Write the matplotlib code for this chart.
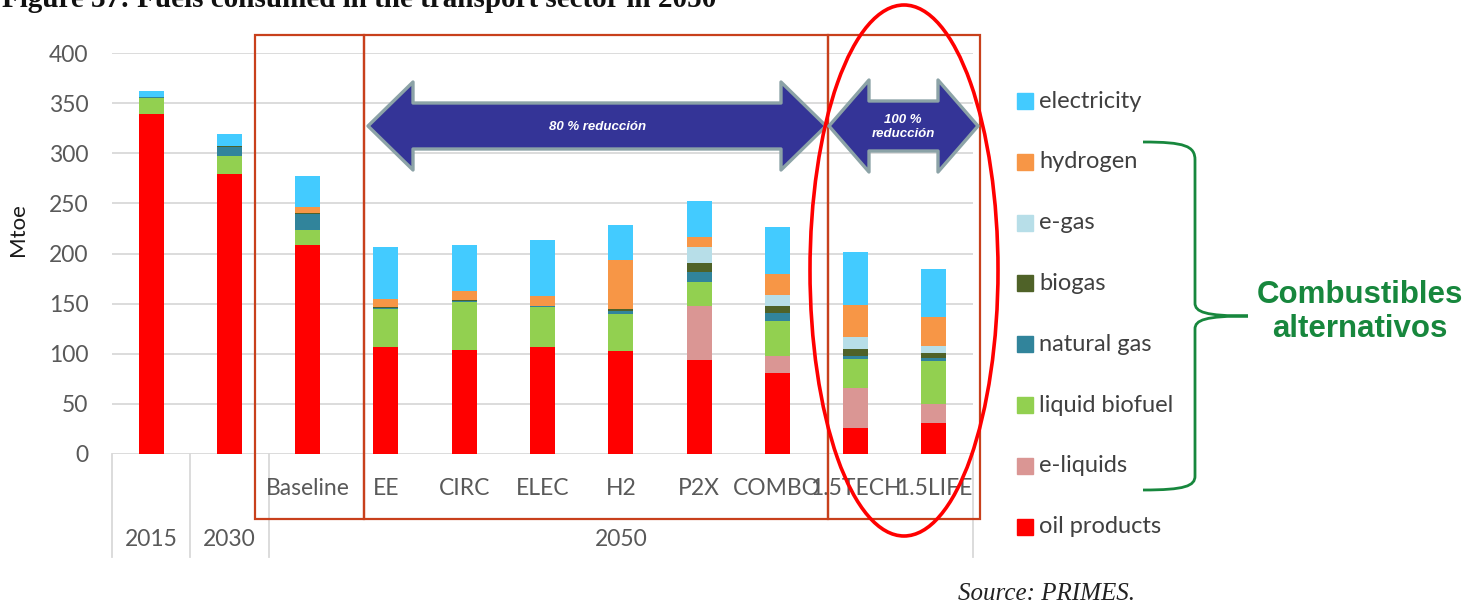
import numpy as np
import matplotlib.pyplot as plt
from matplotlib.patches import Rectangle, Ellipse, Polygon, PathPatch
from matplotlib.path import Path
from matplotlib.transforms import Affine2D, blended_transform_factory

plt.rcParams['font.family'] = ['Lato', 'DejaVu Sans']

# ---- data (Mtoe) ----
scenarios = ['2015', '2030', 'Baseline', 'EE', 'CIRC', 'ELEC', 'H2', 'P2X', 'COMBO', '1.5TECH', '1.5LIFE']
sub_labels = ['', '', 'Baseline', 'EE', 'CIRC', 'ELEC', 'H2', 'P2X', 'COMBO', '1.5TECH', '1.5LIFE']
year_labels = ['2015', '2030', '2050']
year_pos = [0, 1, 6]

oil_products = [339, 279, 208, 107, 104, 107, 103, 94, 81, 26, 31]
e_liquids = [0, 0, 0, 0, 0, 0, 0, 54, 17, 40, 19]
liquid_biofuel = [16, 18, 15, 38, 48, 40, 37, 24, 35, 29, 43]
natural_gas = [1, 9, 16, 1, 1, 1, 3, 10, 8, 3, 3]
biogas = [0, 1, 1, 0.5, 1, 0, 2, 9, 7, 7, 5]
e_gas = [0, 0, 0, 0, 0, 0, 0, 15, 11, 12, 7]
hydrogen = [0, 0, 6, 8, 9, 10, 49, 10, 21, 32, 29]
electricity = [6, 12, 31, 52, 45, 55, 34, 36, 46, 52, 48]

series_names = ['oil products', 'e-liquids', 'liquid biofuel', 'natural gas',
                'biogas', 'e-gas', 'hydrogen', 'electricity']
series_vals = [oil_products, e_liquids, liquid_biofuel, natural_gas,
               biogas, e_gas, hydrogen, electricity]
series_cols = ['#FF0000', '#DA9694', '#92D050', '#31849B',
               '#4F6228', '#B7DEE8', '#F79646', '#43CBFF']

W, H = 1480, 604
fig = plt.figure(figsize=(W / 100, H / 100), dpi=100)
# pixel coords measured from top-left of the picture
px = Affine2D().scale(1 / W, -1 / H).translate(0, 1) + fig.transFigure

ax = fig.add_axes([112 / W, 1 - 454 / H, 861 / W, 401 / H])
x = np.arange(len(scenarios))
bottom = np.zeros(len(scenarios))
for name, vals, col in zip(series_names, series_vals, series_cols):
    ax.bar(x, vals, 0.32, bottom=bottom, color=col, label=name, zorder=3)
    bottom += np.array(vals)

ax.set_xlim(-0.5, len(scenarios) - 0.5)
ax.set_ylim(0, 400)
ax.set_yticks(range(0, 401, 50))
ax.grid(axis='y', color='#D9D9D9', lw=1.3)
ax.set_axisbelow(True)
for s in ax.spines.values():
    s.set_visible(False)
ax.set_xticks([])
ax.tick_params(axis='y', length=0, pad=17, labelsize=16.5, labelcolor='#595959')
ax.set_ylabel('Mtoe', fontsize=16, color='#1A1A1A')
ax.yaxis.set_label_coords(-0.098, 0.56)

# multi-level category axis
tr = blended_transform_factory(ax.transData, ax.transAxes)
for xi, lab in zip(x, sub_labels):
    ax.text(xi, -0.087, lab, transform=tr, ha='center', va='center',
            fontsize=16.5, color='#595959')
for xi, lab in zip(year_pos, year_labels):
    ax.text(xi, -0.214, lab, transform=tr, ha='center', va='center',
            fontsize=16.5, color='#595959')
for xs in [-0.5, 0.5, 1.5, len(scenarios) - 0.5]:
    ax.plot([xs, xs], [0, -0.257], transform=tr, color='#D9D9D9', lw=1.3, clip_on=False)

# ---- overlays ----
box_col = '#C8401C'
for (x0, x1) in [(255, 364), (364, 828), (828, 980)]:
    fig.patches.append(Rectangle((x0, 35), x1 - x0, 484, transform=px, fill=False,
                                 ec=box_col, lw=1.6, zorder=5))

def double_arrow(xl, xr, yc, head, hh, sh):
    pts = [(xl, yc), (xl + head, yc - hh), (xl + head, yc - sh), (xr - head, yc - sh),
           (xr - head, yc - hh), (xr, yc), (xr - head, yc + hh), (xr - head, yc + sh),
           (xl + head, yc + sh), (xl + head, yc + hh)]
    return Polygon(pts, closed=True, transform=px, fc='#343497', ec='#8CA3A7',
                   lw=2.4, joinstyle='round', zorder=6)

fig.patches.append(double_arrow(368, 826, 126, 45, 44, 23))
fig.patches.append(double_arrow(829, 978, 126, 40, 46, 25))
fig.text(598, 127, '80 % reducción', transform=px, ha='center', va='center',
         color='white', fontsize=9.5, fontweight='bold', fontstyle='italic',
         family='Liberation Sans', zorder=7)
fig.text(903, 127, '100 %\nreducción', transform=px, ha='center', va='center',
         color='white', fontsize=9.5, fontweight='bold', fontstyle='italic',
         family='Liberation Sans', linespacing=1.3, zorder=7)

fig.patches.append(Ellipse((904, 270.5), 188, 531, transform=px, fill=False,
                           ec='#FF0000', lw=2.6, zorder=8))

# legend (top entry = top of stack)
for i, (name, col) in enumerate(zip(series_names[::-1], series_cols[::-1])):
    yy = 101 + i * 60.8
    fig.patches.append(Rectangle((1017, yy - 8), 16, 16, transform=px, color=col))
    fig.text(1039, yy, name, transform=px, ha='left', va='center',
             fontsize=17, color='#404040')

# green brace + note
green = '#17873D'
verts = [(1143, 142), (1185, 142), (1195, 146), (1195, 160), (1195, 303),
         (1195, 312), (1205, 316), (1248, 316), (1205, 316), (1195, 320), (1195, 329),
         (1195, 476), (1195, 486), (1185, 490), (1143, 490)]
codes = [Path.MOVETO, Path.CURVE4, Path.CURVE4, Path.CURVE4, Path.LINETO,
         Path.CURVE4, Path.CURVE4, Path.CURVE4, Path.CURVE4, Path.CURVE4, Path.CURVE4,
         Path.LINETO, Path.CURVE4, Path.CURVE4, Path.CURVE4]
fig.patches.append(PathPatch(Path(verts, codes), transform=px, fill=False, ec=green, lw=2))
fig.text(1360, 312, 'Combustibles\nalternativos', transform=px, ha='center', va='center',
         color=green, fontsize=22.5, fontweight='bold', family='Liberation Sans',
         linespacing=1.15)

# title (cut at the top edge, as in the source scan) and source
fig.text(2, 7, 'Figure 37: Fuels consumed in the transport sector in 2050', transform=px,
         ha='left', va='baseline', fontsize=21, fontweight='bold',
         family='Liberation Serif', color='#111111')
fig.text(958, 594, 'Source: PRIMES.', transform=px, ha='left', va='center',
         fontsize=18, fontstyle='italic', family='Liberation Serif', color='#222222')

fig.savefig('out.png', dpi=100)
